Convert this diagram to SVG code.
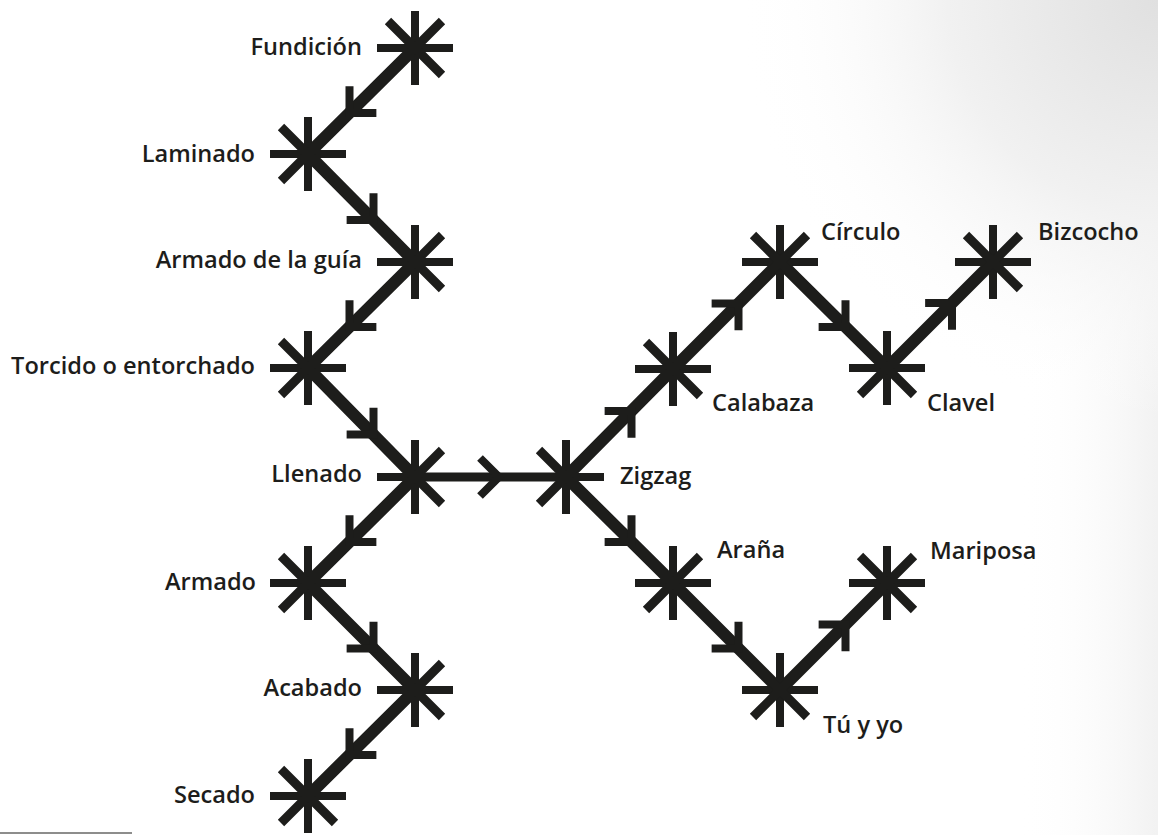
<svg xmlns="http://www.w3.org/2000/svg" xmlns:xlink="http://www.w3.org/1999/xlink" width="1158" height="835" viewBox="0 0 1158 835">
  <defs>
    <radialGradient id="bgTR" cx="1158" cy="0" r="420" gradientUnits="userSpaceOnUse">
      <stop offset="0" stop-color="#e0e0e0"/>
      <stop offset="0.5" stop-color="#f1f1f1"/>
      <stop offset="1" stop-color="#ffffff" stop-opacity="0"/>
    </radialGradient>
    <linearGradient id="bgR" x1="1020" y1="0" x2="1158" y2="0" gradientUnits="userSpaceOnUse">
      <stop offset="0" stop-color="#ffffff" stop-opacity="0"/>
      <stop offset="1" stop-color="#ececec" stop-opacity="0.7"/>
    </linearGradient>
    <g id="star">
      <path d="M0 -37 V37 M-38 0 H38" class="arm"/>
      <path d="M-27 -27 L27 27 M-27 27 L27 -27" class="darm"/>
    </g>
    <path id="chev" d="M -19 -19 L 0 0 L -19 19" class="chev"/>
  </defs>
  <style>
    .arm { stroke: #1d1d1b; stroke-width: 8; fill: none; stroke-linecap: butt; }
    .darm { stroke: #1d1d1b; stroke-width: 9; fill: none; stroke-linecap: butt; }
    .link { stroke: #1d1d1b; stroke-width: 12; fill: none; stroke-linecap: butt; }
    .hlink { stroke: #1d1d1b; stroke-width: 9; fill: none; }
    .chev { stroke: #1d1d1b; stroke-width: 8; fill: none; stroke-linejoin: miter; stroke-linecap: butt; }
    text { font-family: "Open Sans", "Noto Sans", "Liberation Sans", sans-serif; font-size: 23.6px; font-weight: 600; fill: #1d1d1b; }
    .l { text-anchor: end; }
  </style>

  <rect x="0" y="0" width="1158" height="835" fill="#ffffff"/>
  <rect x="0" y="0" width="1158" height="835" fill="url(#bgR)"/>
  <rect x="0" y="0" width="1158" height="835" fill="url(#bgTR)"/>
  <line x1="0" y1="833" x2="132" y2="833" stroke="#1d1d1b" stroke-width="1.2"/>

  <g id="connectors">
    <path class="link" d="M415 48 L308 154 L415 262 L308 368 L415 477 L308 583 L415 690 L308 796"/>
    <path class="hlink" d="M415 477 H566"/>
    <path class="link" d="M566 477 L673 369 L780 262 L887 368 L993 262"/>
    <path class="link" d="M566 477 L673 583 L780 690 L887 583"/>
    <use xlink:href="#chev" transform="translate(349.5 113) rotate(135)"/>
    <use xlink:href="#chev" transform="translate(373.5 220) rotate(45)"/>
    <use xlink:href="#chev" transform="translate(349.5 327) rotate(135)"/>
    <use xlink:href="#chev" transform="translate(373.5 434.5) rotate(45)"/>
    <use xlink:href="#chev" transform="translate(349.5 542) rotate(135)"/>
    <use xlink:href="#chev" transform="translate(373.5 648.5) rotate(45)"/>
    <use xlink:href="#chev" transform="translate(349.5 755) rotate(135)"/>
    <use xlink:href="#chev" transform="translate(499 477) rotate(0)"/>
    <use xlink:href="#chev" transform="translate(631.5 411) rotate(-45)"/>
    <use xlink:href="#chev" transform="translate(738.5 303.5) rotate(-45)"/>
    <use xlink:href="#chev" transform="translate(845.5 327) rotate(45)"/>
    <use xlink:href="#chev" transform="translate(952 303) rotate(-45)"/>
    <use xlink:href="#chev" transform="translate(631.5 542) rotate(45)"/>
    <use xlink:href="#chev" transform="translate(738.5 648.5) rotate(45)"/>
    <use xlink:href="#chev" transform="translate(845.5 624.5) rotate(-45)"/>
  </g>

  <g id="n-fundicion"><use xlink:href="#star" transform="translate(415 48)"/><text class="l" x="362" y="55">Fundición</text></g>
  <g id="n-laminado"><use xlink:href="#star" transform="translate(308 154)"/><text class="l" x="255" y="162">Laminado</text></g>
  <g id="n-armado-guia"><use xlink:href="#star" transform="translate(415 262)"/><text class="l" x="362" y="268">Armado de la guía</text></g>
  <g id="n-torcido"><use xlink:href="#star" transform="translate(308 368)"/><text class="l" x="255" y="374">Torcido o entorchado</text></g>
  <g id="n-llenado"><use xlink:href="#star" transform="translate(415 477)"/><text class="l" x="362" y="482">Llenado</text></g>
  <g id="n-armado"><use xlink:href="#star" transform="translate(308 583)"/><text class="l" x="256" y="590">Armado</text></g>
  <g id="n-acabado"><use xlink:href="#star" transform="translate(415 690)"/><text class="l" x="362" y="696">Acabado</text></g>
  <g id="n-secado"><use xlink:href="#star" transform="translate(308 796)"/><text class="l" x="255" y="803">Secado</text></g>
  <g id="n-zigzag"><use xlink:href="#star" transform="translate(566 477)"/><text x="620" y="484">Zigzag</text></g>
  <g id="n-calabaza"><use xlink:href="#star" transform="translate(673 369)"/><text x="712" y="411">Calabaza</text></g>
  <g id="n-circulo"><use xlink:href="#star" transform="translate(780 262)"/><text x="821" y="240">Círculo</text></g>
  <g id="n-clavel"><use xlink:href="#star" transform="translate(887 368)"/><text x="927" y="411">Clavel</text></g>
  <g id="n-bizcocho"><use xlink:href="#star" transform="translate(993 262)"/><text x="1038" y="240">Bizcocho</text></g>
  <g id="n-arana"><use xlink:href="#star" transform="translate(673 583)"/><text x="717" y="558">Araña</text></g>
  <g id="n-tuyyo"><use xlink:href="#star" transform="translate(780 690)"/><text x="823" y="733">Tú y yo</text></g>
  <g id="n-mariposa"><use xlink:href="#star" transform="translate(887 583)"/><text x="930" y="559">Mariposa</text></g>
</svg>
